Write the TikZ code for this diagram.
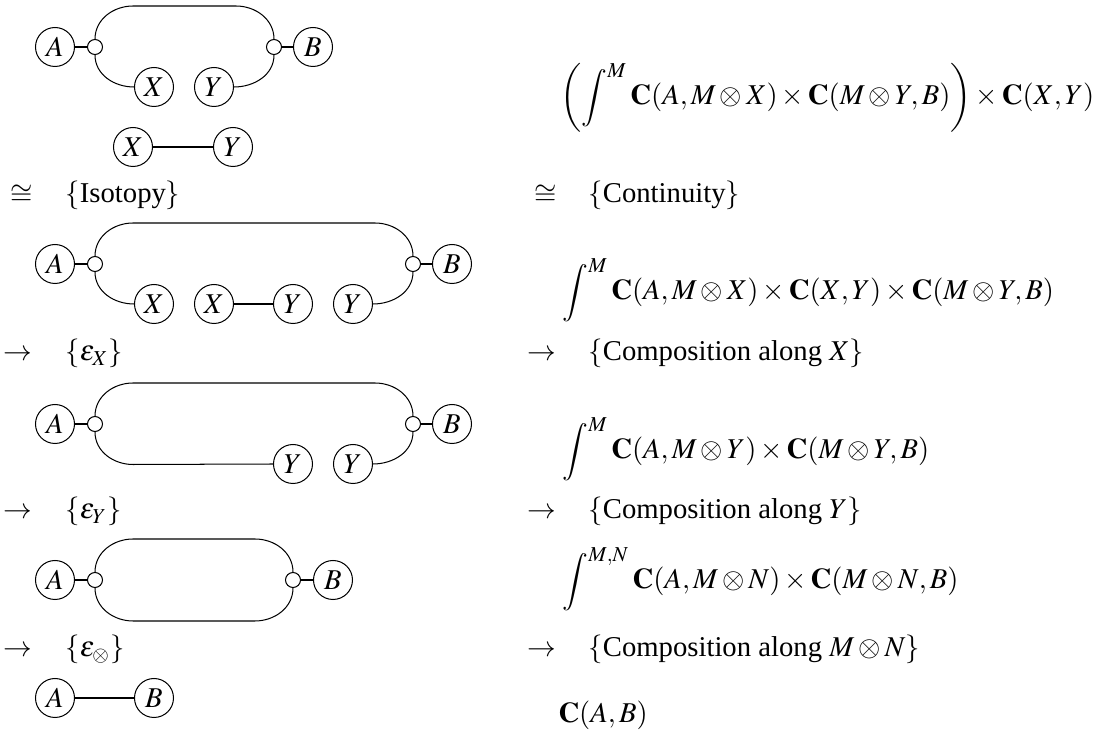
\documentclass[tikz,border=0pt]{standalone}
\usepackage{mathptmx}
\usepackage{fontspec}
\setmainfont{Liberation Serif}
\tikzset{
  obj/.style={draw, circle, minimum size=15.35pt, inner sep=0pt},
  port/.style={draw, circle, minimum size=5.9pt, inner sep=0pt},
  lbl/.style={anchor=base west, inner sep=0pt},
  rel/.style={anchor=base east, inner sep=0pt},
}
\begin{document}
\begin{tikzpicture}[x=0.3937pt, y=0.3937pt, font=\fontsize{11.3pt}{13.6pt}\selectfont]
\useasboundingbox (0,0) rectangle (1107,-734);

% Diagram 1
\node[obj] (A1) at (55,-47) {$A$};
\node[port] (l1) at (95,-47) {};
\node[port] (r1) at (274,-47) {};
\node[obj] (B1) at (313,-47) {$B$};
\node[obj] (X1) at (154,-87) {$X$};
\node[obj] (Y1) at (214,-87) {$Y$};
\node[obj] (X1b) at (133,-147) {$X$};
\node[obj] (Y1b) at (233,-147) {$Y$};
\draw (A1) -- (l1);
\draw (r1) -- (B1);
\draw (l1.north) to[out=90,in=180] ++(38,33) -- ++(103,0) to[out=0,in=90] (r1.north);
\draw (l1.south) to[out=-90,in=180] (X1.west);
\draw (Y1.east) to[out=0,in=-90] (r1.south);
\draw (X1b) -- (Y1b);

% Diagram 2
\node[obj] (A2) at (55,-264) {$A$};
\node[port] (l2) at (95,-264) {};
\node[port] (r2) at (413,-264) {};
\node[obj] (B2) at (452,-264) {$B$};
\node[obj] (X2) at (154,-304) {$X$};
\node[obj] (X2b) at (214,-304) {$X$};
\node[obj] (Y2) at (293,-304) {$Y$};
\node[obj] (Y2b) at (353,-304) {$Y$};
\draw (A2) -- (l2);
\draw (r2) -- (B2);
\draw (l2.north) to[out=90,in=180] ++(38,33) -- ++(242,0) to[out=0,in=90] (r2.north);
\draw (l2.south) to[out=-90,in=180] (X2.west);
\draw (X2b) -- (Y2);
\draw (Y2b.east) to[out=0,in=-90] (r2.south);

% Diagram 3
\node[obj] (A3) at (55,-424) {$A$};
\node[port] (l3) at (95,-424) {};
\node[port] (r3) at (413,-424) {};
\node[obj] (B3) at (452,-424) {$B$};
\node[obj] (Y3) at (293,-464) {$Y$};
\node[obj] (Y3b) at (353,-464) {$Y$};
\draw (A3) -- (l3);
\draw (r3) -- (B3);
\draw (l3.north) to[out=90,in=180] ++(38,33) -- ++(242,0) to[out=0,in=90] (r3.north);
\draw (l3.south) to[out=-90,in=180] ++(38,-32.5) -- (Y3.west);
\draw (Y3b.east) to[out=0,in=-90] (r3.south);

% Diagram 4
\node[obj] (A4) at (55,-580) {$A$};
\node[port] (l4) at (95,-580) {};
\node[port] (r4) at (293,-580) {};
\node[obj] (B4) at (333,-580) {$B$};
\draw (A4) -- (l4);
\draw (r4) -- (B4);
\draw (l4.north) to[out=90,in=180] ++(38,33) -- ++(122,0) to[out=0,in=90] (r4.north);
\draw (l4.south) to[out=-90,in=180] ++(38,-33) -- ++(122,0) to[out=0,in=-90] (r4.south);

% Diagram 5
\node[obj] (A5) at (55,-698) {$A$};
\node[obj] (B5) at (154,-698) {$B$};
\draw (A5) -- (B5);

% Steps, left column
\node[rel] (s1) at (33,-203) {$\cong$};
\node[lbl] (t1) at (65,-203) {$\{\mbox{Isotopy}\}$};
\node[rel] (s2) at (33,-361) {$\to$};
\node[lbl] (t2) at (65,-361) {$\{\varepsilon_X\}$};
\node[rel] (s3) at (33,-519) {$\to$};
\node[lbl] (t3) at (65,-519) {$\{\varepsilon_Y\}$};
\node[rel] (s4) at (33,-657) {$\to$};
\node[lbl] (t4) at (65,-657) {$\{\varepsilon_\otimes\}$};

% Steps, right column
\node[lbl] (e1) at (560,-105) {$\displaystyle\left(\int^M \mathbf{C}(A,M\otimes X)\times\mathbf{C}(M\otimes Y,B)\right)\times\mathbf{C}(X,Y)$};
\node[rel] (u1) at (557,-203) {$\cong$};
\node[lbl] (v1) at (588,-203) {$\{\mbox{Continuity}\}$};
\node[lbl] (e2) at (562,-300) {$\displaystyle\int^M \mathbf{C}(A,M\otimes X)\times\mathbf{C}(X,Y)\times\mathbf{C}(M\otimes Y,B)$};
\node[rel] (u2) at (557,-361) {$\to$};
\node[lbl] (v2) at (588,-361) {$\{\mbox{Composition along $X$}\}$};
\node[lbl] (e3) at (562,-459) {$\displaystyle\int^M \mathbf{C}(A,M\otimes Y)\times\mathbf{C}(M\otimes Y,B)$};
\node[rel] (u3) at (557,-519) {$\to$};
\node[lbl] (v3) at (588,-519) {$\{\mbox{Composition along $Y$}\}$};
\node[lbl] (e4) at (562,-589) {$\displaystyle\int^{M,N} \mathbf{C}(A,M\otimes N)\times\mathbf{C}(M\otimes N,B)$};
\node[rel] (u4) at (557,-657) {$\to$};
\node[lbl] (v4) at (588,-657) {$\{\mbox{Composition along $M\otimes N$}\}$};
\node[lbl] (e5) at (558,-723) {$\mathbf{C}(A,B)$};
\end{tikzpicture}
\end{document}
